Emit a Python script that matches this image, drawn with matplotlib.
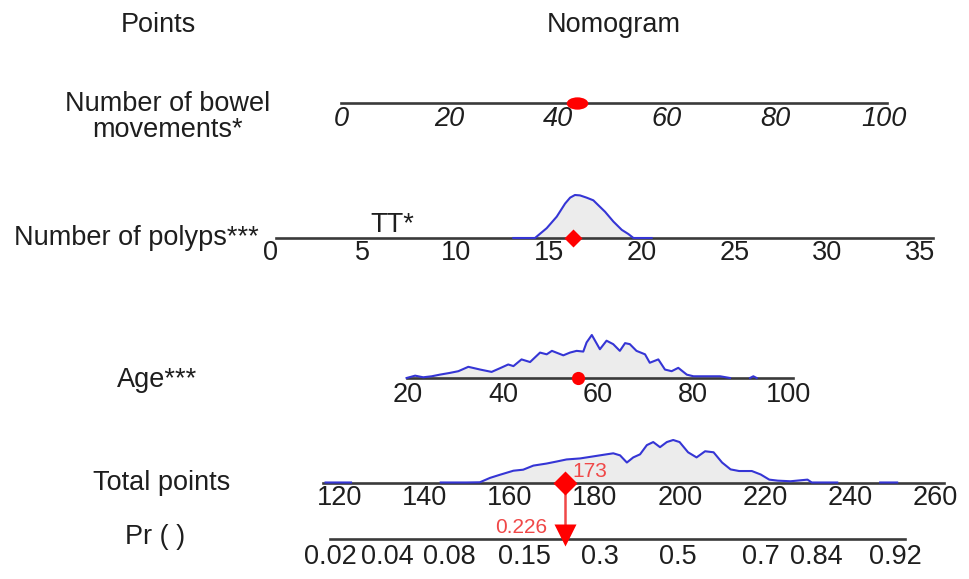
import numpy as np
import matplotlib
matplotlib.use("Agg")
import matplotlib.pyplot as plt
from matplotlib.path import Path

plt.rcParams['font.family'] = ['Liberation Sans', 'DejaVu Sans']

# --- Daten ---
bowel_ticks = [0, 20, 40, 60, 80, 100]
bowel_patient = 43.5

polyps_ticks = [0, 5, 10, 15, 20, 25, 30, 35]
polyps_grid = [13.1, 14.27, 14.9, 15.44, 15.89, 16.16, 16.42, 16.69, 17.05,
               17.41, 17.68, 18.04, 18.49, 18.94, 19.3, 19.57, 20.55]
polyps_density = [0, 0, 10, 21.7, 35, 41, 43.7, 43.3, 41,
                  38.3, 33.3, 26.7, 16.7, 8.3, 4, 0, 0]
polyps_patient = 16.3

age_ticks = [20, 40, 60, 80, 100]
age_grid = [19.7, 21.5, 23.2, 25.0, 26.7, 28.8, 30.6, 32.7, 35.2, 37.6, 39.4,
            41.1, 42.2, 43.9, 45.7, 47.8, 49.2, 50.3, 52.7, 54.1, 55.5, 56.9,
            57.6, 58.7, 60.4, 61.8, 63.2, 64.6, 65.7, 66.7, 68.1, 69.9, 70.9,
            72.7, 74.1, 75.5, 76.9, 78.7, 80.1, 85.7, 87.8,
            np.nan, 92.0, 92.7, 93.4]
age_density = [0, 2.3, 0.7, 1.7, 3.3, 5, 6.7, 11, 8.3, 6, 9.7,
               13.3, 11.7, 18.3, 15.7, 25, 23.3, 26.7, 22.3, 25, 26.7, 26,
               35, 42.3, 28.3, 36.7, 33.3, 26.7, 34.3, 33.3, 26.7, 23.3, 15,
               18.3, 8.3, 6.7, 10, 3.3, 1.7, 1.7, 0,
               np.nan, 0, 1.7, 0]
age_patient = 55.8

total_ticks = [120, 140, 160, 180, 200, 220, 240, 260]
total_grid = [116.6, 122.6, np.nan,
              143.7, 149.7, 152.9, 155.3, 157.6, 160.8, 163.1, 165.5, 168.6,
              171.0, 173.3, 176.5, 179.6, 182.7, 184.3, 185.9, 187.5, 189.0,
              190.6, 192.2, 193.7, 195.3, 196.9, 198.4, 199.9, 201.9, 203.9,
              205.9, 207.9, 209.9, 211.9, 213.9, 216.9, 219.0, 221.0, 223.0,
              226.0, 230.0, 231.0, 237.0, np.nan,
              247.1, 251.1]
total_density = [0.5, 0.5, np.nan,
                 0.5, 0.5, 0.7, 5, 8, 12, 13, 17, 19,
                 21, 23, 24, 26, 28, 29, 27, 20, 25,
                 28, 37, 40, 35, 40, 42, 40, 30, 25,
                 31, 30, 20, 13.3, 11.7, 11.7, 8.3, 3.3, 2.3,
                 1.7, 3.3, 0.5, 0.5, np.nan,
                 0.5, 0.5]
total_patient = 173
total_label = "173"

pr_labels = ["0.02", "0.04", "0.08", "0.15", "0.3", "0.5", "0.7", "0.84", "0.92"]
pr_tick_points = [117.7, 131.2, 145.7, 163.3, 181.2, 199.5, 219.0, 232.0, 250.6]
pr_patient_label = "0.226"

# --- Stil ---
W, H = 969, 579
LINE = '#3a3a3a'
BLUE = '#3535d5'
FILL = '#ececec'
RED = '#ff0000'
RED_TXT = '#f04848'
TXT = '#1e1e1e'
FS_LAB = 19.5
FS_TICK = 19.5

fig = plt.figure(figsize=(W / 100, H / 100), dpi=100)


def make_row(y_px, v0, p0, v1, p1, half=80):
    # Achse ueber die ganze Breite, Werte -> Pixel ueber xlim, y in Pixeln
    s = (p1 - p0) / (v1 - v0)
    ax = fig.add_axes([0, (H - y_px - half) / H, 1, 2 * half / H])
    ax.set_xlim(v0 - p0 / s, v0 + (W - p0) / s)
    ax.set_ylim(-half, half)
    ax.axis('off')
    return ax


def density(ax, grid, dens):
    g = np.array(grid, dtype=float)
    d = np.array(dens, dtype=float)
    d = d / np.nanmax(d) * 43
    ax.fill_between(g, 0, d, color=FILL, lw=0, zorder=1)
    ax.plot(g, d, color=BLUE, lw=1.5, zorder=3)


def ticks(ax, vals, dy, labels=None, **kw):
    labels = labels or [str(v) for v in vals]
    for v, t in zip(vals, labels):
        ax.text(v, dy, t, ha='center', va='center', fontsize=FS_TICK,
                color=TXT, **kw)


# laenglicher Punkt (wie im Original)
circ = Path.unit_circle()
oval = Path(circ.vertices * np.array([1.75, 1.0]), circ.codes)

# Zeile 1: Stuhlgang
ax1 = make_row(103, 0, 341, 100, 884)
ax1.plot([0, 100.6], [0, 0], color=LINE, lw=1.9, zorder=2)
ticks(ax1, bowel_ticks, -16, style='italic')
ax1.plot([bowel_patient], [0], marker=oval, color=RED, ms=15.5, mec='none',
         ls='none', zorder=5)

# Zeile 2: Polypen
ax2 = make_row(238, 0, 270, 35, 920)
density(ax2, polyps_grid, polyps_density)
ax2.plot([0.3, 35.7], [0, 0], color=LINE, lw=1.9, zorder=2)
ticks(ax2, polyps_ticks, -15)
ax2.plot([polyps_patient], [0], 'D', color=RED, ms=9.5, mec='none', zorder=5)
ax2.text(6.6, 13, "TT*", ha='center', va='center', fontsize=FS_LAB, color=TXT)

# Zeile 3: Alter
ax3 = make_row(378, 20, 408, 100, 788)
density(ax3, age_grid, age_density)
ax3.plot([19.8, 101], [0, 0], color=LINE, lw=1.9, zorder=2)
ticks(ax3, age_ticks, -17)
ax3.plot([age_patient], [0], 'o', color=RED, ms=9.5, mec='none', zorder=5)

# Zeile 4 + 5: Gesamtpunkte und Pr
ax4 = make_row(483, 120, 340, 260, 935, half=95)
density(ax4, total_grid, total_density)
ax4.plot([116, 262], [0, 0], color=LINE, lw=1.9, zorder=2)
ticks(ax4, total_ticks, -15)
ax4.plot([117.6, 253], [-56, -56], color=LINE, lw=1.9, zorder=2)
ticks(ax4, pr_tick_points, -74, labels=pr_labels)

ax4.plot([total_patient, total_patient], [0, -45], color=RED_TXT, lw=1.8, zorder=4)
ax4.plot([total_patient], [-52], 'v', color=RED, ms=16, mec='none', zorder=5)
ax4.plot([total_patient], [0], 'D', color=RED, ms=12.5, mec='none', zorder=5)
ax4.annotate(total_label, xy=(total_patient, 0), xytext=(5, 8),
             textcoords='offset points', ha='left', va='center',
             fontsize=15, color=RED_TXT, zorder=6)
ax4.annotate(pr_patient_label, xy=(total_patient, 0), xytext=(-13, -32),
             textcoords='offset points', ha='right', va='center',
             fontsize=15, color=RED_TXT, zorder=6)

# Beschriftungen links / oben
labels = [("Points", 158, 25), ("Nomogram", 614, 25),
          ("Number of bowel\nmovements*", 168, 117),
          ("Number of polyps***", 136, 238), ("Age***", 157, 380),
          ("Total points", 162, 483), ("Pr ( )", 155, 537)]
for txt, x, y in labels:
    fig.text(x / W, 1 - y / H, txt, ha='center', va='center',
             fontsize=FS_LAB, color=TXT, linespacing=1.0)

fig.savefig("out.png", dpi=100)
